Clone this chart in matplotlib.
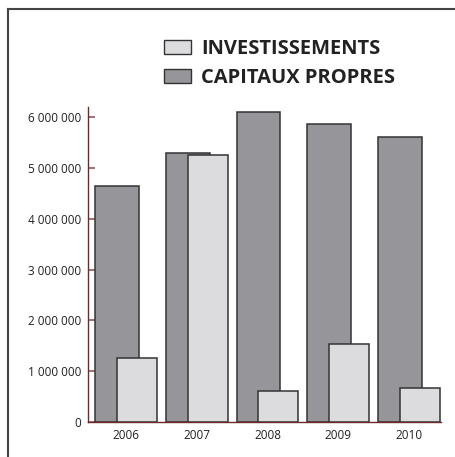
import matplotlib
matplotlib.use("Agg")
import matplotlib.pyplot as plt
from matplotlib.lines import Line2D
from matplotlib.patches import Patch

# data
years = ["2006", "2007", "2008", "2009", "2010"]
capitaux = [4640000, 5300000, 6110000, 5875000, 5620000]
investissements = [1250000, 5260000, 610000, 1530000, 660000]
yticks = [0, 1000000, 2000000, 3000000, 4000000, 5000000, 6000000]

dark = "#96969a"
light = "#dcdcde"
edge = "#333333"
axis_red = "#6e2a2a"

plt.rcParams['font.family'] = ['Open Sans', 'DejaVu Sans']

fig = plt.figure(figsize=(4.56, 4.57), dpi=100)
ax = fig.add_axes([0.193, 0.0772, 0.774, 0.689])

x = list(range(len(years)))
# dark bars left of group centre, light ones shifted right and on top
ax.bar([i - 0.437 for i in x], capitaux, width=0.62, align='edge',
       color=dark, edgecolor=edge, linewidth=1.1, zorder=2)
ax.bar([i - 0.127 for i in x], investissements, width=0.564, align='edge',
       color=light, edgecolor=edge, linewidth=1.1, zorder=3)

ax.set_xlim(-0.535, 4.45)
ax.set_ylim(0, 6210000)
ax.set_xticks(x)
ax.set_xticklabels(years, fontsize=8.5, color="#222222")
ax.tick_params(axis='x', length=0, pad=5)
ax.set_yticks(yticks)
ax.set_yticklabels([f"{v:,}".replace(",", " ") for v in yticks],
                   fontsize=8.5, color="#222222")
ax.tick_params(axis='y', direction='in', length=5, width=1.1,
               color="#8b4a4a", pad=5)

for s in ['top', 'right']:
    ax.spines[s].set_visible(False)
for s in ['left', 'bottom']:
    ax.spines[s].set_color(axis_red)
    ax.spines[s].set_linewidth(1.0)

# outer frame: top and left lines only
fig.add_artist(Line2D([8 / 456, 1.0], [1 - 9 / 457, 1 - 9 / 457],
                      transform=fig.transFigure, color="#444444", lw=1.5))
fig.add_artist(Line2D([8 / 456, 8 / 456], [0, 1 - 9 / 457],
                      transform=fig.transFigure, color="#444444", lw=1.5))

handles = [Patch(facecolor=light, edgecolor=edge, linewidth=1.0),
           Patch(facecolor=dark, edgecolor=edge, linewidth=1.0)]
fig.legend(handles, ["INVESTISSEMENTS", "CAPITAUX PROPRES"],
           loc='upper left', bbox_to_anchor=(0.36, 0.915), frameon=False,
           prop={'weight': 'bold', 'size': 14.5}, handlelength=1.35,
           handleheight=0.68, handletextpad=0.5, labelspacing=0.45,
           borderaxespad=0, borderpad=0, labelcolor="#222222")

fig.savefig("out.png", dpi=100)
